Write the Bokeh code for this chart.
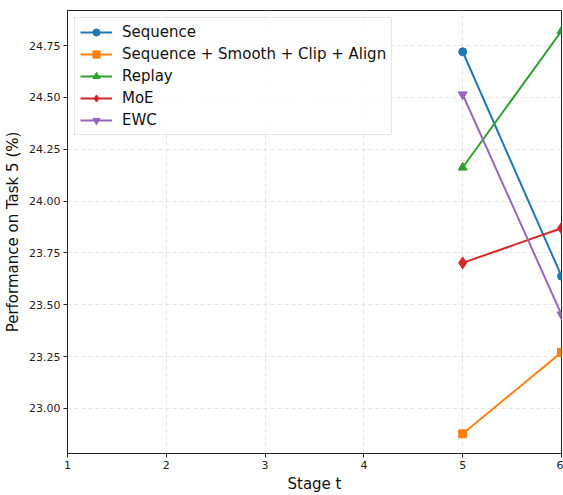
from bokeh.plotting import figure
from bokeh.embed import file_html
from bokeh.resources import INLINE
from bokeh.models import Range1d, FixedTicker, NumeralTickFormatter, Legend, LegendItem

stages = [5, 6]
series_names = ["Sequence", "Sequence + Smooth + Clip + Align", "Replay", "MoE", "EWC"]
seq = [24.72, 23.638]
seq_sca = [22.878, 23.271]
replay = [24.162, 24.82]
moe = [23.702, 23.869]
ewc = [24.514, 23.453]
x_ticks = [1, 2, 3, 4, 5, 6]
y_ticks = [23.00, 23.25, 23.50, 23.75, 24.00, 24.25, 24.50, 24.75]

colors = ["#1f77b4", "#ff7f0e", "#2ca02c", "#d62728", "#9467bd"]
markers = ["circle", "square", "triangle", "diamond", "inverted_triangle"]
sizes = [8, 8, 9, 12, 9]
values = [seq, seq_sca, replay, moe, ewc]

p = figure(width=563, height=495, output_backend="svg", toolbar_location=None,
           x_range=Range1d(1, 6), y_range=Range1d(22.783, 24.919),
           min_border_left=67, min_border_right=2, min_border_top=10, min_border_bottom=42)

p.outline_line_color = "#222222"
p.outline_line_width = 1
p.background_fill_color = "white"

items = []
for name, vals, c, m, s in zip(series_names, values, colors, markers, sizes):
    l = p.line(stages, vals, line_color=c, line_width=2)
    sc = p.scatter(stages, vals, marker=m, size=s, fill_color=c, line_color=c)
    items.append(LegendItem(label=name, renderers=[l, sc]))

legend = Legend(items=items, location="top_left")
legend.label_text_font = "DejaVu Sans"
legend.label_text_font_size = "15px"
legend.label_text_color = "#111111"
legend.glyph_width = 32
legend.label_height = 18
legend.glyph_height = 18
legend.label_standoff = 10
legend.spacing = 4
legend.padding = 5
legend.margin = 7
legend.border_line_color = "#cccccc"
legend.border_line_width = 1
legend.background_fill_alpha = 0.8
p.add_layout(legend)

for ax in (p.xaxis[0], p.yaxis[0]):
    ax.axis_line_color = "#222222"
    ax.major_tick_line_color = "#222222"
    ax.minor_tick_line_color = None
    ax.major_tick_out = 4
    ax.major_tick_in = 0
    ax.major_label_standoff = 3
    ax.major_label_text_font = "DejaVu Sans"
    ax.major_label_text_font_size = "11px"
    ax.major_label_text_color = "#222222"
    ax.axis_label_text_font = "DejaVu Sans"
    ax.axis_label_text_font_size = "15px"
    ax.axis_label_text_font_style = "normal"
    ax.axis_label_text_color = "#111111"

p.xaxis.ticker = FixedTicker(ticks=x_ticks)
p.yaxis.ticker = FixedTicker(ticks=y_ticks)
p.yaxis.formatter = NumeralTickFormatter(format="0.00")
p.xaxis.axis_label = "Stage t"
p.yaxis.axis_label = "Performance on Task 5 (%)"
p.xaxis.axis_label_standoff = 3
p.yaxis.axis_label_standoff = 4

for g in (p.xgrid[0], p.ygrid[0]):
    g.grid_line_color = "#dddddd"
    g.grid_line_dash = "4 3"
    g.grid_line_width = 0.8

open("out.html", "w").write(file_html(p, INLINE))
